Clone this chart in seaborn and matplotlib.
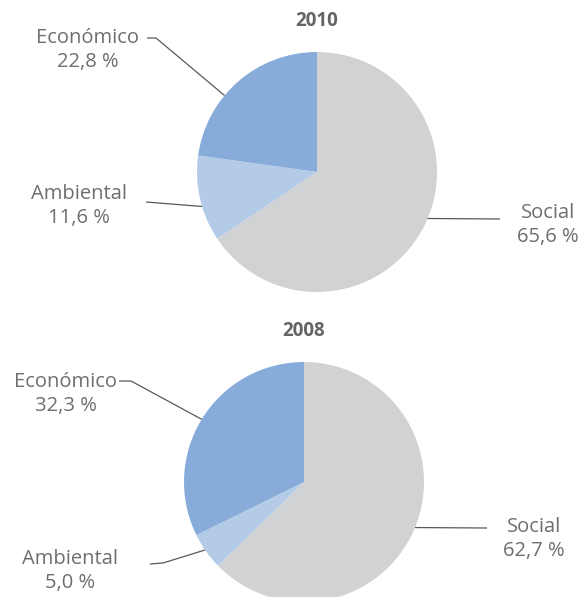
import numpy as np
import seaborn as sns
import matplotlib.pyplot as plt

# datos
categorias = ["Social", "Ambiental", "Económico"]
valores_2010 = [65.6, 11.6, 22.8]
valores_2008 = [62.7, 5.0, 32.3]
anios = ["2010", "2008"]

colores = ["#d1d2d4", "#b4cbe8", "#87acda"]
gris_texto = "#6d6e71"

sns.set_theme(style="white")
plt.rcParams['font.family'] = ['Open Sans', 'DejaVu Sans']

W, H = 588, 597
fig = plt.figure(figsize=(W / 100, H / 100), dpi=100)
ax = fig.add_axes([0, 0, 1, 1])


def fmt(v):
    return f"{v:.1f} %".replace(".", ",")


def dibujar(valores, anio, cx, cy, r, etiquetas):
    # cy en píxeles desde arriba
    cy_d = H - cy
    ax.pie(valores, colors=colores, startangle=90, counterclock=False,
           center=(cx, cy_d), radius=r, wedgeprops=dict(linewidth=0))
    ax.text(cx, H - (cy - r - 31), anio, ha='center', va='center',
            fontsize=13.5, fontweight='bold', color="#636466")
    for cat, v in zip(categorias, valores):
        ang, puntos, (tx, ty) = etiquetas[cat]
        a = np.deg2rad(ang)
        ex, ey = cx + r * np.cos(a), cy_d + r * np.sin(a)
        xs = [p[0] for p in puntos] + [ex]
        ys = [H - p[1] for p in puntos] + [ey]
        ax.plot(xs, ys, color="#58595b", lw=0.9, solid_capstyle='butt')
        ax.text(tx, H - ty, f"{cat}\n{fmt(v)}", ha='center', va='center',
                fontsize=14.5, color=gris_texto, linespacing=1.3)


dibujar(valores_2010, anios[0], 317, 172, 120, {
    "Económico": (140.4, [(147, 38), (156, 38)], (88, 50)),
    "Ambiental": (196.7, [(146, 202)], (79, 206)),
    "Social": (-22.8, [(500, 219)], (548, 225)),
})

dibujar(valores_2008, anios[1], 304, 482, 120, {
    "Económico": (148.5, [(119, 381), (131, 381)], (66, 394)),
    "Ambiental": (214.5, [(150, 564), (163, 563)], (70, 571)),
    "Social": (-22.3, [(487, 528)], (534, 539)),
})

ax.set_xlim(0, W)
ax.set_ylim(0, H)
ax.set_aspect('equal')
ax.axis('off')

fig.savefig("out.png", dpi=100)
